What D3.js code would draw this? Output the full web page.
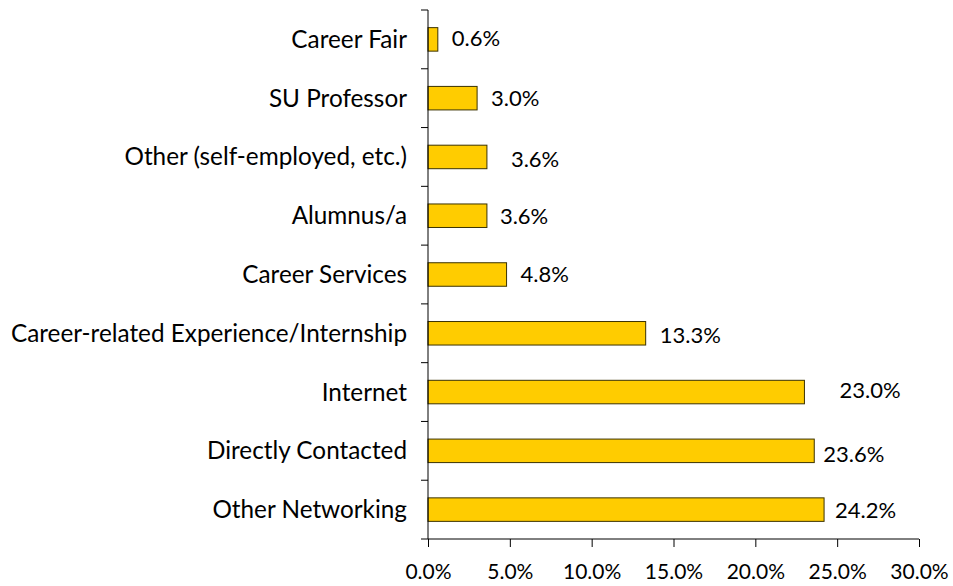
<!DOCTYPE html>
<html>
<head>
<meta charset="utf-8">
<script src="https://cdn.jsdelivr.net/npm/d3@7"></script>
<style>
  body { margin: 0; background: #fff; }
  text { font-family: Lato, "Open Sans", sans-serif; fill: #000; }
</style>
</head>
<body>
<div id="chart"></div>
<script>
// categories, top to bottom
var categories = [
  'Career Fair',
  'SU Professor',
  'Other (self-employed, etc.)',
  'Alumnus/a',
  'Career Services',
  'Career-related Experience/Internship',
  'Internet',
  'Directly Contacted',
  'Other Networking'
];
var values = [0.6, 3.0, 3.6, 3.6, 4.8, 13.3, 23.0, 23.6, 24.2];
var xTicks = [0, 5, 10, 15, 20, 25, 30];

// label nudges (px) to follow the original label placement
var labelDx = [0, 0, 10, -1, 0, 0, 21, -5, -3];
var labelDy = [-1, 0, 2, 1, 0, 2, -2, 3, 1];

var width = 953, height = 586;
var margin = {top: 10, left: 428, right: 34, bottom: 47};

var svg = d3.select('#chart')
  .append('svg')
  .attr('width', width)
  .attr('height', height);

var x = d3.scaleLinear()
  .domain([0, 30])
  .range([margin.left, width - margin.right]);

var y = d3.scaleBand()
  .domain(categories)
  .range([margin.top, height - margin.bottom])
  .paddingInner(0.6)
  .paddingOuter(0.3);

// bars
svg.selectAll('rect.bar')
  .data(values)
  .enter()
  .append('rect')
  .attr('class', 'bar')
  .attr('x', x(0))
  .attr('y', function(d, i) { return y(categories[i]); })
  .attr('width', function(d) { return x(d) - x(0); })
  .attr('height', y.bandwidth())
  .attr('fill', '#ffcc00')
  .attr('stroke', '#3b3200')
  .attr('stroke-width', 1);

// value labels
svg.selectAll('text.val')
  .data(values)
  .enter()
  .append('text')
  .attr('class', 'val')
  .attr('x', function(d, i) { return x(d) + 14 + labelDx[i]; })
  .attr('y', function(d, i) { return y(categories[i]) + y.bandwidth() / 2 + labelDy[i]; })
  .attr('dy', '0.35em')
  .style('font-size', '22px')
  .text(function(d) { return d.toFixed(1) + '%'; });

// y axis with ticks between categories
var yAxisG = svg.append('g')
  .attr('transform', 'translate(' + x(0) + ',0)');
yAxisG.append('line')
  .attr('x1', 0).attr('x2', 0)
  .attr('y1', margin.top).attr('y2', height - margin.bottom)
  .attr('stroke', '#000');
var bounds = d3.range(categories.length + 1).map(function(i) { return margin.top + i * ((height - margin.bottom - margin.top) / categories.length); });
yAxisG.selectAll('line.tk')
  .data(bounds)
  .enter()
  .append('line')
  .attr('class', 'tk')
  .attr('x1', -7).attr('x2', 0)
  .attr('y1', function(d) { return d; })
  .attr('y2', function(d) { return d; })
  .attr('stroke', '#000');
yAxisG.selectAll('text')
  .data(categories)
  .enter()
  .append('text')
  .attr('x', -21)
  .attr('y', function(d) { return y(d) + y.bandwidth() / 2; })
  .attr('dy', '0.35em')
  .attr('text-anchor', 'end')
  .style('font-size', '24.3px')
  .text(function(d) { return d; });

// x axis
var xAxis = d3.axisBottom(x)
  .tickValues(xTicks)
  .tickSize(8)
  .tickPadding(17)
  .tickFormat(function(d) { return d.toFixed(1) + '%'; });

var xAxisG = svg.append('g')
  .attr('transform', 'translate(0,' + (height - margin.bottom) + ')')
  .call(xAxis);
xAxisG.select('.domain').attr('d', 'M' + x(0) + ',0H' + x(30));
xAxisG.selectAll('text')
  .style('font-size', '21px')
  .style('font-family', 'Lato, "Open Sans", sans-serif')
  .attr('fill', '#000');
xAxisG.selectAll('line').attr('stroke', '#000');
</script>
</body>
</html>
